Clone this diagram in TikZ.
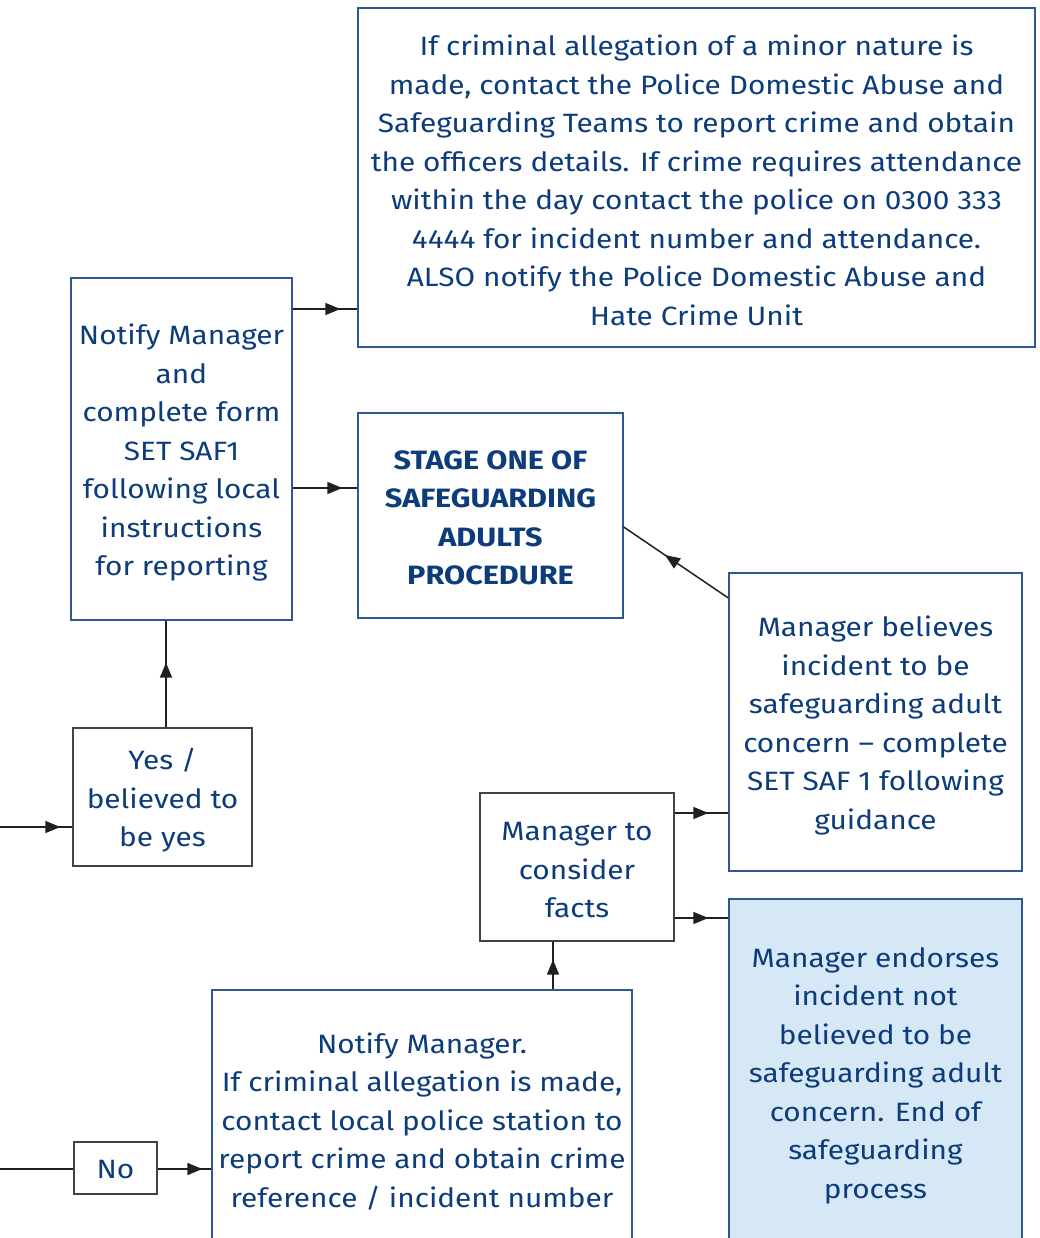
\documentclass[tikz,border=0pt]{standalone}
\usepackage{fontspec}
\setmainfont{Fira Sans}[FakeStretch=1.125]
\newfontfamily\stagefont{Fira Sans}[FakeStretch=1.155]
\usetikzlibrary{arrows.meta,decorations.markings}
\definecolor{txtblue}{RGB}{12,60,122}
\definecolor{bordblue}{RGB}{46,88,148}
\definecolor{lineblk}{RGB}{35,31,32}
\definecolor{fillblue}{RGB}{214,231,245}
\tikzset{
  box/.style={draw=bordblue, line width=1.3pt, inner sep=0pt},
  greybox/.style={box, draw=lineblk!85},
  txt/.style={text=txtblue, align=center, inner sep=0pt,
    font=\fontsize{26.5}{38.5}\selectfont},
  conn/.style={draw=lineblk, line width=1.5pt},
  arrat/.style={conn, postaction={decorate}, decoration={markings,
    mark=at position #1 with {\arrow{Triangle[length=15pt,width=12pt]}}}},
}
\begin{document}
\begin{tikzpicture}[x=1pt,y=-1pt]
\clip (0,0) rectangle (1040,1238);
% boxes
\node[box, minimum width=677pt, minimum height=339pt] (top) at (696.5,177.5) {};
\node[box, minimum width=221pt, minimum height=342pt] (notify) at (181.5,449) {};
\node[box, minimum width=265pt, minimum height=205pt] (stage) at (490.5,515.5) {};
\node[box, minimum width=293pt, minimum height=298pt] (believes) at (875.5,722) {};
\node[greybox, minimum width=179pt, minimum height=138pt] (yes) at (162.5,797) {};
\node[greybox, minimum width=194pt, minimum height=148pt] (consider) at (577,867) {};
\node[box, fill=fillblue, minimum width=293pt, minimum height=348pt] (endorses) at (875.5,1073) {};
\node[box, minimum width=420pt, minimum height=258pt] (notifyb) at (422,1119) {};
\node[greybox, minimum width=83pt, minimum height=52pt] (no) at (115.5,1168) {};
% texts
\node[txt] (top-t) at ([yshift=-3pt]top.center)
  {If criminal allegation of a minor nature is\\
   made, contact the Police Domestic Abuse and\\
   Safeguarding Teams to report crime and obtain\\
   the officers details. If crime requires attendance\\
   within the day contact the police on 0300 333\\
   4444 for incident number and attendance.\\
   ALSO notify the Police Domestic Abuse and\\
   Hate Crime Unit};
\node[txt] (notify-t) at ([yshift=-3.5pt]notify.center)
  {Notify Manager\\ and\\ complete form\\ SET SAF1\\ following local\\ instructions\\ for reporting};
\node[txt, font=\fontsize{26.5}{38.5}\selectfont\stagefont\bfseries] (stage-t) at ([yshift=-2.5pt]stage.center)
  {STAGE ONE OF\\ SAFEGUARDING\\ ADULTS\\ PROCEDURE};
\node[txt] (believes-t) at ([yshift=-3.5pt]believes.center)
  {Manager believes\\ incident to be\\ safeguarding adult\\ concern -- complete\\ SET SAF 1 following\\ guidance};
\node[txt] (yes-t) at ([yshift=-3.5pt]yes.center)
  {Yes /\\ believed to\\ be yes};
\node[txt] (consider-t) at ([yshift=-3.5pt]consider.center)
  {Manager to\\ consider\\ facts};
\node[txt] (endorses-t) at ([yshift=-2.5pt]endorses.center)
  {Manager endorses\\ incident not\\ believed to be\\ safeguarding adult\\ concern. End of\\ safeguarding\\ process};
\node[txt] (notifyb-t) at ([yshift=-2.5pt]notifyb.center)
  {Notify Manager.\\ If criminal allegation is made,\\ contact local police station to\\ report crime and obtain crime\\ reference / incident number};
\node[txt] (no-t) at ([yshift=-2pt]no.center) {No};
% level coordinates
\coordinate (inA) at (0,827);
\coordinate (inB) at (0,1169);
\coordinate (l309) at (0,309);
\coordinate (l488) at (0,488);
\coordinate (l598) at (0,598);
\coordinate (l527) at (0,527);
\coordinate (l813) at (0,813);
\coordinate (l918) at (0,918);
\coordinate (c166) at (166,0);
\coordinate (c553) at (553,0);
% connectors
\path[arrat=-12pt] (inA) -- (yes.west |- inA);
\path[arrat=-42pt] (yes.north -| c166) -- (notify.south -| c166);
\path[arrat=-17pt] (notify.east |- l309) -- (top.west |- l309);
\path[arrat=-15pt] (notify.east |- l488) -- (stage.west |- l488);
\path[arrat=-50pt] (believes.west |- l598) -- (stage.east |- l527);
\path[arrat=-20pt] (consider.east |- l813) -- (believes.west |- l813);
\path[arrat=-20pt] (consider.east |- l918) -- (endorses.west |- l918);
\path[arrat=-18pt] (notifyb.north -| c553) -- (consider.south -| c553);
\draw[conn] (inB) -- (no.west |- inB);
\path[arrat=-9pt] (no.east |- inB) -- (notifyb.west |- inB);
\end{tikzpicture}
\end{document}
